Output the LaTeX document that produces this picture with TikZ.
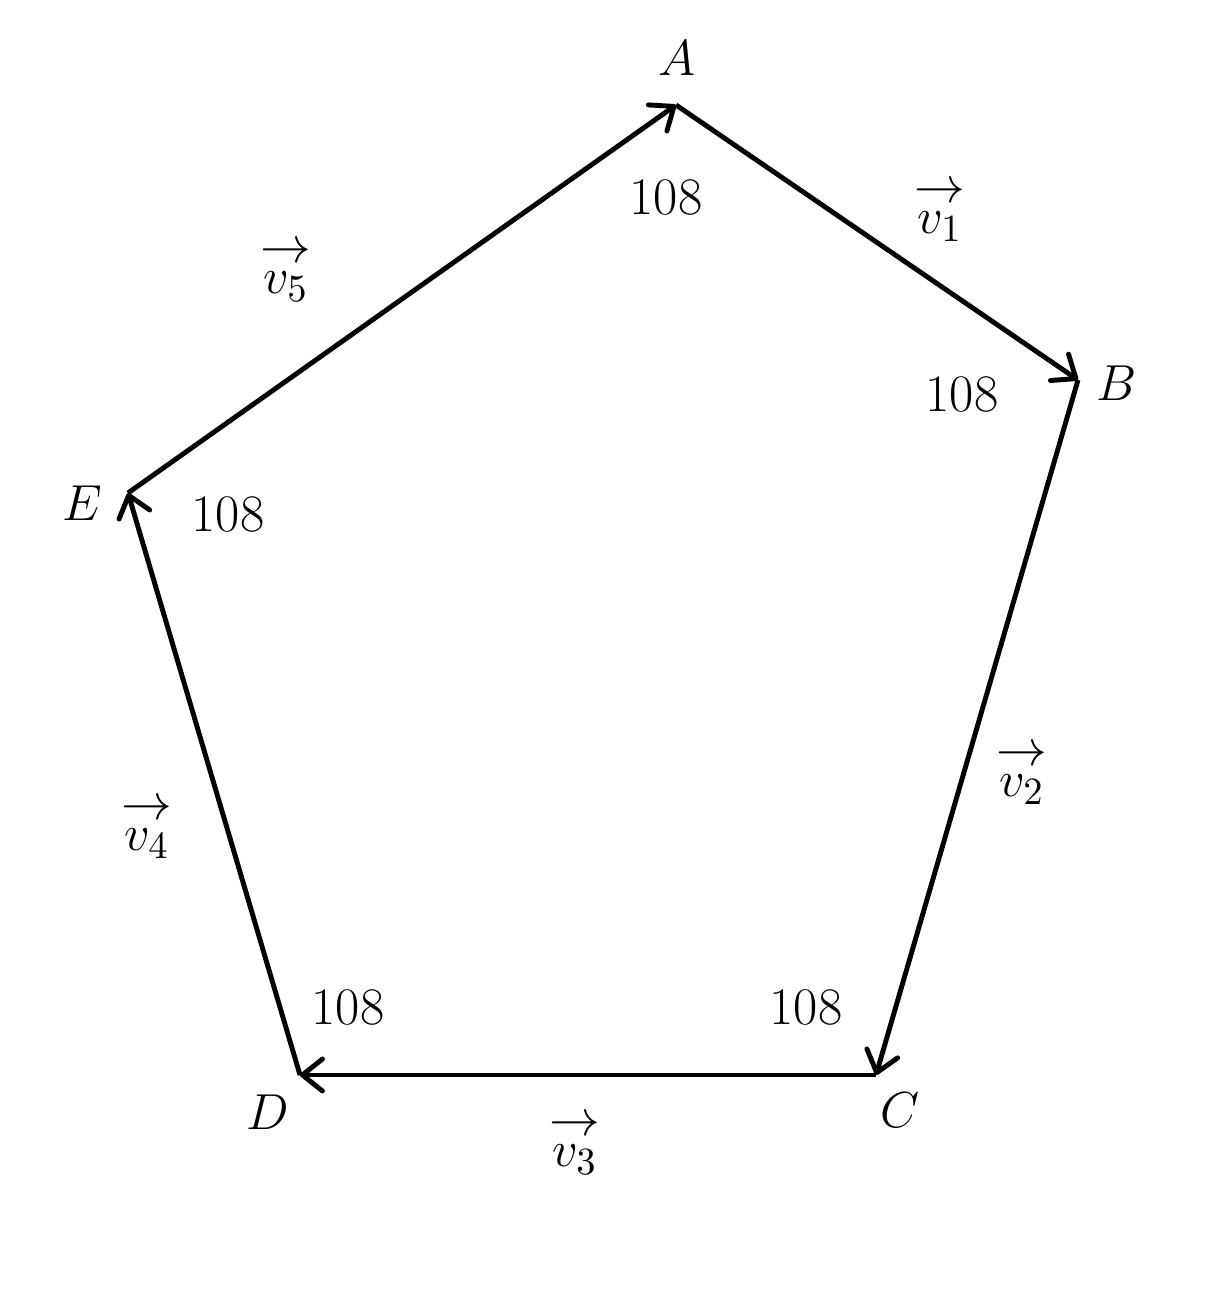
\documentclass[tikz,border=0pt]{standalone}
\usepackage{amsmath}
\usetikzlibrary{arrows.meta}
\newcommand{\myvec}[1]{\overset{\textstyle\rightarrow}{#1}}
\begin{document}
\begin{tikzpicture}[
  edge/.style={line width=1.4pt,-{Straight Barb[length=2mm,width=3.2mm,round]}},
  lbl/.style={font=\fontsize{15}{18}\selectfont, inner sep=0pt},
]
\useasboundingbox (0,0) rectangle (12.11,12.99);
\coordinate (A) at (6.76,11.94);
\coordinate (B) at (10.78,9.19);
\coordinate (C) at (8.76,2.24);
\coordinate (D) at (3.00,2.24);
\coordinate (E) at (1.28,8.06);
\draw[edge] (A) -- (B);
\draw[edge] (B) -- (C);
\draw[edge] (C) -- (D);
\draw[edge] (D) -- (E);
\draw[edge] (E) -- (A);
\node[lbl] (lA) at (6.77,12.41) {$A$};
\node[lbl] (lB) at (11.17,9.16) {$B$};
\node[lbl] (lC) at (9.00,1.89) {$C$};
\node[lbl] (lD) at (2.68,1.87) {$D$};
\node[lbl] (lE) at (0.82,7.96) {$E$};
\node[lbl] (aA) at (6.66,11.01) {108};
\node[lbl] (aB) at (9.62,9.04) {108};
\node[lbl] (aC) at (8.06,2.91) {108};
\node[lbl] (aD) at (3.48,2.91) {108};
\node[lbl] (aE) at (2.28,7.84) {108};
\node[lbl] (v1) at (9.40,10.89) {$\myvec{v_1}$};
\node[lbl] (v2) at (10.22,5.26) {$\myvec{v_2}$};
\node[lbl] (v3) at (5.75,1.56) {$\myvec{v_3}$};
\node[lbl] (v4) at (1.47,4.72) {$\myvec{v_4}$};
\node[lbl] (v5) at (2.86,10.29) {$\myvec{v_5}$};
\end{tikzpicture}
\end{document}
